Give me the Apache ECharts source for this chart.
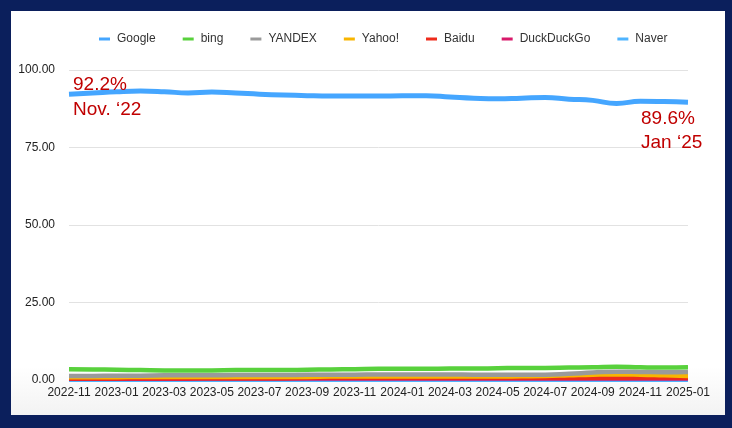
<!DOCTYPE html>
<html>
<head>
<meta charset="utf-8">
<script src="https://cdn.jsdelivr.net/npm/echarts@6/dist/echarts.min.js"></script>
<style>
html,body{margin:0;padding:0;background:#0b1f5c;}
#outer{position:absolute;left:0;top:0;width:732px;height:428px;background:#0b1f5c;}
#panel{position:absolute;left:11px;top:11px;width:714px;height:404px;background:linear-gradient(to bottom,#ffffff 0%,#ffffff 88%,#f3f3f3 100%);}
#chart{width:714px;height:404px;}
</style>
</head>
<body>
<div id="outer"><div id="panel"><div id="chart"></div></div></div>
<script>
const months = ['2022-11','2022-12','2023-01','2023-02','2023-03','2023-04','2023-05','2023-06','2023-07','2023-08','2023-09','2023-10','2023-11','2023-12','2024-01','2024-02','2024-03','2024-04','2024-05','2024-06','2024-07','2024-08','2024-09','2024-10','2024-11','2024-12','2025-01'];
const google = [92.2,92.6,93.0,93.2,93.0,92.6,92.9,92.6,92.2,91.9,91.7,91.6,91.6,91.6,91.7,91.7,91.3,90.9,90.7,90.9,91.1,90.6,90.2,89.2,89.9,89.8,89.6];
const bing = [3.5,3.4,3.3,3.2,3.1,3.1,3.1,3.2,3.2,3.2,3.3,3.4,3.5,3.6,3.6,3.6,3.7,3.7,3.8,3.9,3.9,4.0,4.1,4.3,4.1,4.0,4.1];
const yandex = [1.3,1.3,1.4,1.4,1.5,1.5,1.5,1.6,1.6,1.6,1.7,1.7,1.7,1.8,1.8,1.8,1.8,1.7,1.7,1.7,1.7,2.0,2.4,2.7,2.6,2.5,2.6];
const yahoo = [0.9,0.9,0.9,1.0,1.0,1.0,1.0,1.0,1.0,1.0,1.0,1.1,1.1,1.1,1.1,1.1,1.1,1.1,1.1,1.2,1.3,1.5,1.7,1.8,1.7,1.5,1.3];
const baidu = [0.5,0.5,0.5,0.6,0.6,0.6,0.6,0.6,0.6,0.6,0.7,0.7,0.7,0.7,0.7,0.7,0.7,0.7,0.7,0.7,0.7,0.7,0.7,0.7,0.8,0.8,0.7];
const duckduckgo = [0.4,0.4,0.4,0.4,0.4,0.4,0.5,0.5,0.5,0.5,0.5,0.5,0.5,0.5,0.5,0.5,0.5,0.5,0.5,0.5,0.5,0.5,0.5,0.5,0.5,0.5,0.5];
const naver = [0.1,0.1,0.1,0.1,0.1,0.1,0.1,0.1,0.1,0.1,0.1,0.1,0.1,0.1,0.1,0.1,0.1,0.1,0.1,0.1,0.1,0.1,0.1,0.1,0.1,0.1,0.1];
const yTicks = [0,25,50,75,100];
const startNote = ['92.2%','Nov. \u201822'];
const endNote = ['89.6%','Jan \u201825'];

const names = ['Google','bing','YANDEX','Yahoo!','Baidu','DuckDuckGo','Naver'];
const dataSets = [google,bing,yandex,yahoo,baidu,duckduckgo,naver];
const colors = ['#45a6ff','#58d13c','#9a9a9a','#f8b500','#ee2b1b','#d8196a','#4fb4ff'];

const chart = echarts.init(document.getElementById('chart'));
const font = 'Liberation Sans, Arial, Helvetica, sans-serif';
const noteStyle = (t)=>({text:t, fill:'#c00000', font:'19px '+font});
chart.setOption({
  animation:false,
  color:colors,
  textStyle:{fontFamily:font},
  legend:{
    left:83, top:17, icon:'rect', itemWidth:11, itemHeight:3, itemGap:27,
    textStyle:{fontSize:12, color:'#333', fontFamily:font, padding:[0,0,0,2]},
    data:names
  },
  grid:{left:58, right:37, top:59, bottom:35},
  xAxis:{
    type:'category', data:months, boundaryGap:false,
    axisTick:{show:false}, axisLine:{show:false},
    axisLabel:{interval:1, color:'#222', fontSize:12, margin:7, fontFamily:font}
  },
  yAxis:{
    type:'value', min:yTicks[0], max:yTicks[yTicks.length-1], interval:25,
    axisLabel:{color:'#222', fontSize:12, margin:14, fontFamily:font, formatter:v=>v.toFixed(2)},
    splitLine:{lineStyle:{color:'#e2e2e2', width:1}},
    axisLine:{show:false}, axisTick:{show:false}
  },
  series: names.map((n,i)=>({
    name:n, type:'line', data:dataSets[i], smooth:true, symbol:'none',
    z: 10 - i,
    lineStyle:{width: i===0 ? 5 : 4.5, color:colors[i]}
  })),
  graphic:{
    zlevel:1,
    elements:[
      {type:'text', z:100, left:62, top:64, style:noteStyle(startNote[0])},
      {type:'text', z:100, left:62, top:89, style:noteStyle(startNote[1])},
      {type:'text', z:100, left:630, top:98, style:noteStyle(endNote[0])},
      {type:'text', z:100, left:630, top:122, style:noteStyle(endNote[1])}
    ]
  }
});
</script>
</body>
</html>
